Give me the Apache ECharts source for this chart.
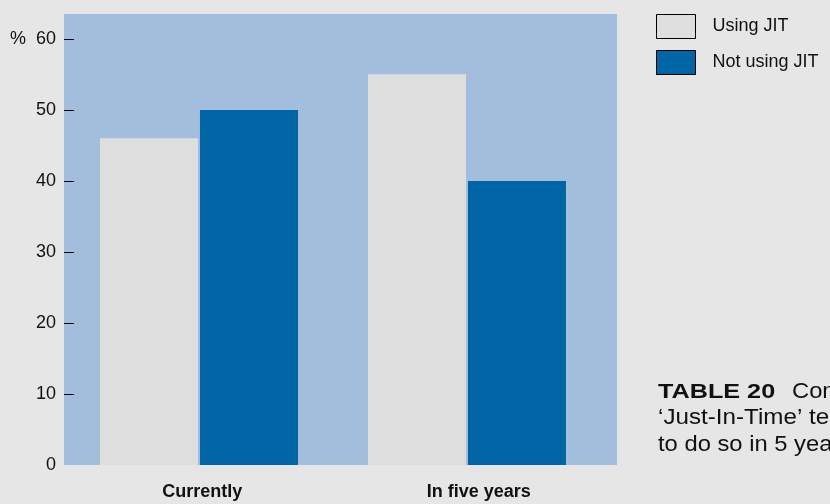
<!DOCTYPE html>
<html>
<head>
<meta charset="utf-8">
<script src="https://cdn.jsdelivr.net/npm/echarts@6/dist/echarts.min.js"></script>
<style>
  html, body { margin: 0; padding: 0; background: #e6e6e6; }
  #chart { width: 830px; height: 504px; }
</style>
</head>
<body>
<div id="chart"></div>
<script>
// Share of companies using Just-In-Time, now and expected in five years (%)
const categories = ['Currently', 'In five years'];
const usingJIT = [46, 55];
const notUsingJIT = [50, 40];
const seriesNames = ['Using JIT', 'Not using JIT'];
const yTicks = [0, 10, 20, 30, 40, 50, 60];

const FONT = '"Liberation Sans", Arial, Helvetica, sans-serif';
const INK = '#111111';

// bars sit on a hidden numeric axis so each pair can be placed by its group index
const groupPos = categories.map((c, i) => i);
const toPairs = vals => vals.map((v, i) => [groupPos[i], v]);

const chart = echarts.init(document.getElementById('chart'), null, { renderer: 'canvas' });

chart.setOption({
  backgroundColor: '#e6e6e6',
  animation: false,
  textStyle: { fontFamily: FONT },
  grid: {
    left: 64, top: 14, right: 213, bottom: 39,
    show: true, backgroundColor: '#a3bedd', borderWidth: 0
  },
  legend: {
    orient: 'vertical',
    left: 656, top: 14,
    padding: 0,
    itemWidth: 39, itemHeight: 24, itemGap: 11,
    icon: 'rect',
    itemStyle: { borderColor: '#000', borderWidth: 1 },
    textStyle: { fontFamily: FONT, fontSize: 18, color: INK, padding: [0, 0, 0, 12] },
    data: seriesNames
  },
  xAxis: [
    {
      type: 'category',
      data: categories,
      boundaryGap: true,
      axisLine: { show: false },
      axisTick: { show: false },
      axisLabel: { fontFamily: FONT, fontSize: 18, fontWeight: 'bold', color: INK, margin: 18 }
    },
    {
      type: 'value',
      show: false,
      min: -0.50373,
      max: 1.5597,
      splitLine: { show: false }
    }
  ],
  yAxis: {
    type: 'value',
    min: 0,
    max: 63.5,
    interval: 10,
    axisLine: { show: false, onZero: false },
    splitLine: { show: false },
    axisTick: {
      show: true, inside: true, length: 10,
      // no dash at the baseline
      customValues: yTicks.filter(v => v > 0),
      lineStyle: { color: '#000', width: 1 }
    },
    axisLabel: {
      customValues: yTicks,
      fontFamily: FONT, fontSize: 18, color: INK, margin: 8,
      formatter: v => (v === 60 ? '%  ' + v : String(v))
    }
  },
  series: [
    {
      name: seriesNames[0],
      type: 'bar',
      xAxisIndex: 1,
      data: toPairs(usingJIT),
      barWidth: 98,
      barGap: '2%',
      itemStyle: { color: '#dedede' }
    },
    {
      name: seriesNames[1],
      type: 'bar',
      xAxisIndex: 1,
      data: toPairs(notUsingJIT),
      barWidth: 98,
      barGap: '2%',
      itemStyle: { color: '#0065a4' }
    }
  ],
  graphic: [
    {
      type: 'text', x: 658, y: 403, scaleX: 1.2,
      style: { text: 'TABLE 20', font: 'bold 21px ' + FONT, fill: INK, verticalAlign: 'bottom' }
    },
    {
      type: 'text', x: 792, y: 403, scaleX: 1.08,
      style: { text: 'Companies currently using', font: '22px ' + FONT, fill: INK, verticalAlign: 'bottom' }
    },
    {
      type: 'text', x: 658, y: 429, scaleX: 1.1,
      style: { text: '\u2018Just-In-Time\u2019 techniques and those expecting', font: '22px ' + FONT, fill: INK, verticalAlign: 'bottom' }
    },
    {
      type: 'text', x: 658, y: 456, scaleX: 1.08,
      style: { text: 'to do so in 5 years', font: '22px ' + FONT, fill: INK, verticalAlign: 'bottom' }
    }
  ]
});
</script>
</body>
</html>
